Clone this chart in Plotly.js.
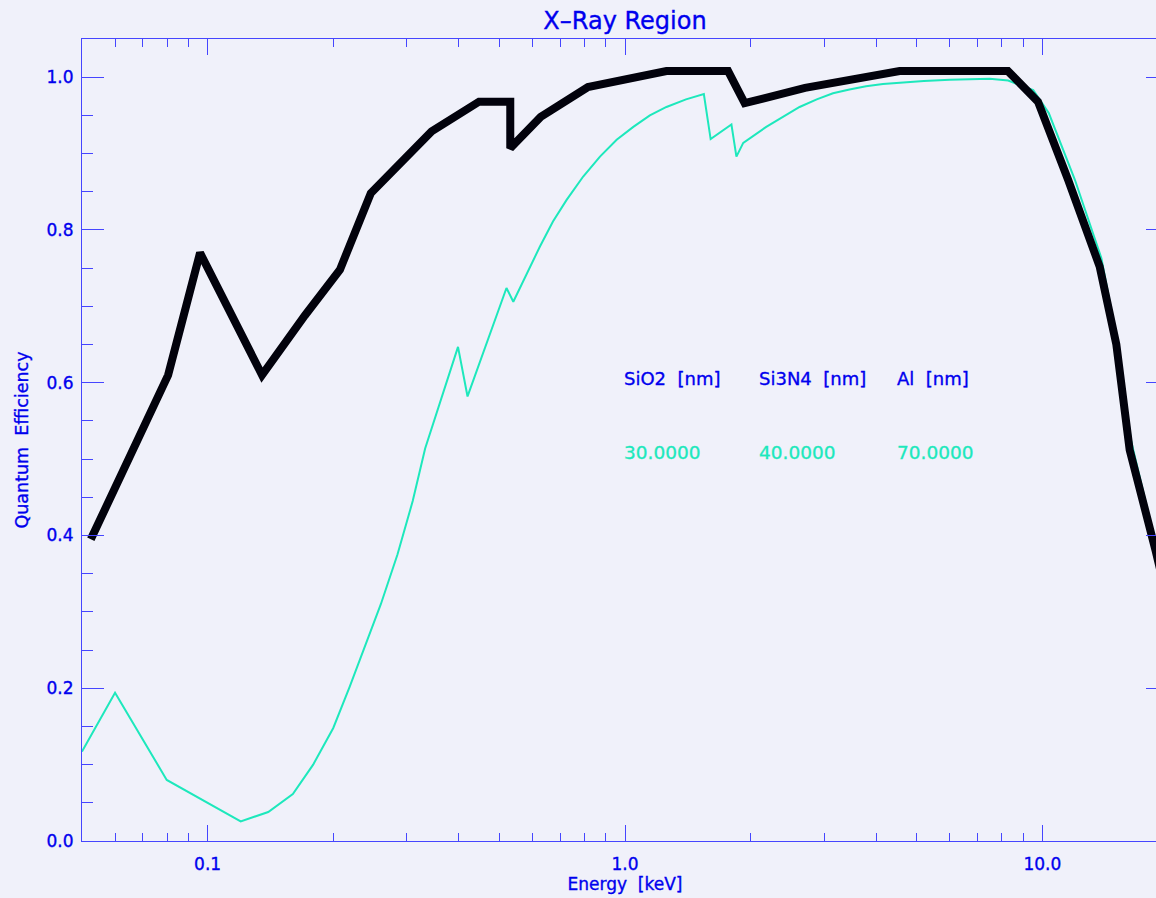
<!DOCTYPE html>
<html>
<head>
<meta charset="utf-8">
<script src="https://cdn.plot.ly/plotly-3.0.1.min.js"></script>
<style>
html, body { margin:0; padding:0; overflow:hidden; background:#f0f1fa; }
#chart { width:1200px; height:898px; }
#chart .xtick text, #chart .ytick text, #chart .gtitle, #chart .xtitle, #chart .ytitle, #chart .annotation.blue text { stroke:#0000ee; stroke-width:0.35px; }
#chart .annotation.cyan text { stroke:#1de8bc; stroke-width:0.35px; }
</style>
</head>
<body>
<div id="chart"></div>
<script>
// Black (thick) curve
const blackEnergy = [0.0525, 0.0804, 0.0959, 0.135, 0.171, 0.2075, 0.246, 0.344, 0.447, 0.531, 0.531, 0.628, 0.815, 1.257, 1.766, 1.935, 2.70, 4.55, 8.27, 9.76, 11.52, 13.72, 15.04, 16.19, 18.68, 20.0];
const blackQE     = [0.395, 0.610, 0.770, 0.610, 0.688, 0.748, 0.848, 0.929, 0.968, 0.968, 0.907, 0.948, 0.987, 1.008, 1.008, 0.966, 0.986, 1.008, 1.008, 0.968, 0.866, 0.752, 0.650, 0.512, 0.380, 0.312];

// Cyan (thin) curve
const cyanEnergy = [0.05, 0.060, 0.0798, 0.120, 0.1397, 0.160, 0.179, 0.200, 0.219, 0.236, 0.26, 0.285, 0.31, 0.332, 0.398, 0.4195, 0.520, 0.540, 0.560, 0.625, 0.672, 0.724, 0.794, 0.871, 0.955, 1.047, 1.147, 1.257, 1.40, 1.545, 1.604, 1.799, 1.849, 1.92, 2.18, 2.40, 2.62, 2.88, 3.15, 3.45, 3.78, 4.15, 4.55, 5.2, 6.0, 7.48, 8.28, 9.51, 10.36, 11.04, 11.96, 13.85, 15.1, 16.3, 18.7, 20.0];
const cyanQE     = [0.117, 0.194, 0.080, 0.0257, 0.038, 0.0615, 0.100, 0.148, 0.202, 0.250, 0.31, 0.375, 0.445, 0.514, 0.647, 0.582, 0.724, 0.706, 0.724, 0.778, 0.811, 0.839, 0.870, 0.896, 0.918, 0.935, 0.950, 0.961, 0.971, 0.978, 0.919, 0.938, 0.896, 0.914, 0.935, 0.949, 0.961, 0.971, 0.979, 0.984, 0.988, 0.991, 0.993, 0.995, 0.9965, 0.998, 0.9956, 0.983, 0.953, 0.914, 0.866, 0.763, 0.655, 0.525, 0.390, 0.320];

// Tick labels
const xTickVals = [0.1, 1, 10];
const xTickText = ['0.1', '1.0', '10.0'];
const xMinorVals = [0.06, 0.07, 0.08, 0.09, 0.2, 0.3, 0.4, 0.5, 0.6, 0.7, 0.8, 0.9, 2, 3, 4, 5, 6, 7, 8, 9];
const yTickVals = [0.0, 0.2, 0.4, 0.6, 0.8, 1.0];
const yTickText = ['0.0', '0.2', '0.4', '0.6', '0.8', '1.0'];

// Legend table
const layerNames  = ['SiO2  [nm]', 'Si3N4  [nm]', 'Al  [nm]'];
const layerThick  = ['30.0000', '40.0000', '70.0000'];

const BLUE = '#0000ee';
const AXIS = '#4646ff';
const CYAN = '#1de8bc';
const FONT = 'DejaVu Sans, sans-serif';

const traces = [
  { x: cyanEnergy, y: cyanQE, mode: 'lines', line: {color: CYAN, width: 2}, hoverinfo: 'skip', showlegend: false },
  { x: blackEnergy, y: blackQE, mode: 'lines', line: {color: '#02020c', width: 8}, hoverinfo: 'skip', showlegend: false }
];

const legendX = [0.4982, 0.6225, 0.7496];
const annotations = [];
for (let i = 0; i < layerNames.length; i++) {
  annotations.push({ xref: 'paper', yref: 'paper', x: legendX[i], y: 0.577, xanchor: 'left', yanchor: 'middle', borderpad: 0,
    text: layerNames[i], showarrow: false, font: {family: FONT, size: 18, color: BLUE} });
  annotations.push({ xref: 'paper', yref: 'paper', x: legendX[i], y: 0.484, xanchor: 'left', yanchor: 'middle', borderpad: 0,
    text: layerThick[i], showarrow: false, font: {family: FONT, size: 18.5, color: CYAN} });
}

const layout = {
  width: 1200, height: 898,
  margin: {l: 82, r: 32, t: 39, b: 57},
  paper_bgcolor: '#f0f1fa', plot_bgcolor: '#f0f1fa',
  font: {family: FONT, color: BLUE, size: 17},
  title: { text: 'X\u2013Ray Region', font: {family: FONT, size: 24, color: BLUE}, x: 0.5, xref: 'paper', xanchor: 'center', y: 1 - 21/898, yref: 'container', yanchor: 'middle' },
  xaxis: {
    type: 'log', range: [Math.log10(0.05), Math.log10(20)],
    showgrid: false, zeroline: false, showline: true, linecolor: AXIS, linewidth: 1, mirror: 'ticks',
    tickmode: 'array', tickvals: xTickVals, ticktext: xTickText,
    ticks: 'inside', ticklen: 16, tickwidth: 1, tickcolor: AXIS,
    minor: { tickmode: 'array', tickvals: xMinorVals, ticks: 'inside', ticklen: 8, tickwidth: 1, tickcolor: AXIS, showgrid: false },
    tickfont: {family: FONT, size: 17, color: BLUE}, ticklabelstandoff: 8,
    title: { text: 'Energy  [keV]', font: {family: FONT, size: 17, color: BLUE}, standoff: 4 }
  },
  yaxis: {
    range: [0, 1.05],
    showgrid: false, zeroline: false, showline: true, linecolor: AXIS, linewidth: 1, mirror: 'ticks',
    tickmode: 'array', tickvals: yTickVals, ticktext: yTickText,
    ticks: 'inside', ticklen: 22, tickwidth: 1, tickcolor: AXIS,
    minor: { dtick: 0.05, tick0: 0, ticks: 'inside', ticklen: 11, tickwidth: 1, tickcolor: AXIS, showgrid: false },
    tickfont: {family: FONT, size: 17, color: BLUE}, ticklabelstandoff: 4,
    title: { text: 'Quantum  Efficiency', font: {family: FONT, size: 17.5, color: BLUE}, standoff: 13 }
  },
  annotations: annotations
};

Plotly.newPlot('chart', traces, layout, {displayModeBar: false, staticPlot: true}).then(function () {
  // tag annotations by colour for the stroke styling
  document.querySelectorAll('#chart .annotation').forEach(function (g, i) {
    g.classList.add(i % 2 === 0 ? 'blue' : 'cyan');
  });
});
</script>
</body>
</html>
